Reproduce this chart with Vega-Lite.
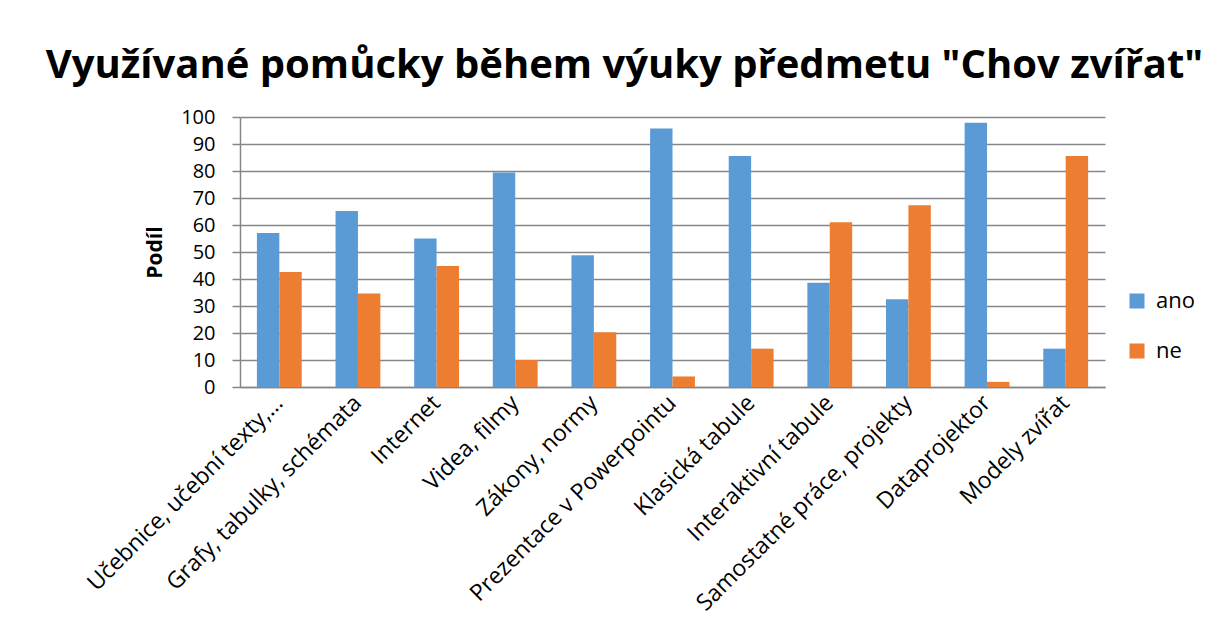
{
  "$schema": "https://vega.github.io/schema/vega-lite/v6.json",
  "autosize": {"type": "none"},
  "width": 865,
  "height": 270,
  "padding": {"left": 240, "top": 117, "right": 108, "bottom": 247},
  "background": "white",
  "title": {
    "text": "Využívané pomůcky během výuky předmetu \"Chov zvířat\"",
    "font": "Open Sans",
    "fontSize": 40,
    "fontWeight": "bold",
    "color": "#000000",
    "anchor": "middle",
    "dx": -48,
    "offset": 21
  },
  "data": {
    "values": [
      {"pomucka": "Učebnice, učební texty,…", "odpoved": "ano", "podil": 57},
      {"pomucka": "Učebnice, učební texty,…", "odpoved": "ne", "podil": 42.6},
      {"pomucka": "Grafy, tabulky, schémata", "odpoved": "ano", "podil": 65.2},
      {"pomucka": "Grafy, tabulky, schémata", "odpoved": "ne", "podil": 34.6},
      {"pomucka": "Internet", "odpoved": "ano", "podil": 55},
      {"pomucka": "Internet", "odpoved": "ne", "podil": 44.8},
      {"pomucka": "Videa, filmy", "odpoved": "ano", "podil": 79.4},
      {"pomucka": "Videa, filmy", "odpoved": "ne", "podil": 10},
      {"pomucka": "Zákony, normy", "odpoved": "ano", "podil": 48.8},
      {"pomucka": "Zákony, normy", "odpoved": "ne", "podil": 20.3},
      {"pomucka": "Prezentace v Powerpointu", "odpoved": "ano", "podil": 95.7},
      {"pomucka": "Prezentace v Powerpointu", "odpoved": "ne", "podil": 3.9},
      {"pomucka": "Klasická tabule", "odpoved": "ano", "podil": 85.6},
      {"pomucka": "Klasická tabule", "odpoved": "ne", "podil": 14.2},
      {"pomucka": "Interaktivní tabule", "odpoved": "ano", "podil": 38.6},
      {"pomucka": "Interaktivní tabule", "odpoved": "ne", "podil": 61},
      {"pomucka": "Samostatné práce, projekty", "odpoved": "ano", "podil": 32.5},
      {"pomucka": "Samostatné práce, projekty", "odpoved": "ne", "podil": 67.3},
      {"pomucka": "Dataprojektor", "odpoved": "ano", "podil": 97.9},
      {"pomucka": "Dataprojektor", "odpoved": "ne", "podil": 1.9},
      {"pomucka": "Modely zvířat", "odpoved": "ano", "podil": 14.2},
      {"pomucka": "Modely zvířat", "odpoved": "ne", "podil": 85.6}
    ]
  },
  "mark": {"type": "bar"},
  "encoding": {
    "x": {
      "field": "pomucka",
      "type": "nominal",
      "sort": null,
      "scale": {"paddingInner": 0.43, "paddingOuter": 0.215},
      "axis": {
        "title": null,
        "labelAngle": -45,
        "labelAlign": "right",
        "labelBaseline": "middle",
        "labelFont": "Open Sans",
        "labelFontSize": 23,
        "labelColor": "#000000",
        "labelPadding": 12,
        "labelLimit": 500,
        "labelOverlap": false,
        "ticks": false,
        "domain": true,
        "domainColor": "#868686",
        "domainWidth": 1.5
      }
    },
    "xOffset": {"field": "odpoved", "type": "nominal", "scale": {"paddingInner": 0, "paddingOuter": 0}},
    "y": {
      "field": "podil",
      "type": "quantitative",
      "scale": {"domain": [0, 100], "nice": false},
      "axis": {
        "title": "Podíl",
        "titleFont": "Open Sans",
        "titleFontSize": 21,
        "titleFontWeight": "bold",
        "titleColor": "#000000",
        "titlePadding": 15,
        "values": [0, 10, 20, 30, 40, 50, 60, 70, 80, 90, 100],
        "labelFont": "Open Sans",
        "labelFontSize": 20,
        "labelColor": "#000000",
        "labelPadding": 17,
        "tickSize": 8,
        "tickColor": "#868686",
        "tickWidth": 1.5,
        "domainColor": "#868686",
        "domainWidth": 1.5,
        "grid": true,
        "gridColor": "#868686",
        "gridWidth": 1.5
      }
    },
    "color": {
      "field": "odpoved",
      "type": "nominal",
      "scale": {"domain": ["ano", "ne"], "range": ["#5B9BD5", "#ED7D31"]},
      "legend": {
        "title": null,
        "orient": "none",
        "legendX": 886,
        "legendY": 173,
        "symbolType": "square",
        "symbolSize": 225,
        "symbolStrokeWidth": 0,
        "labelFont": "Open Sans",
        "labelFontSize": 22,
        "labelColor": "#000000",
        "labelOffset": 8,
        "rowPadding": 28
      }
    }
  },
  "config": {
    "view": {"stroke": null}
  }
}
